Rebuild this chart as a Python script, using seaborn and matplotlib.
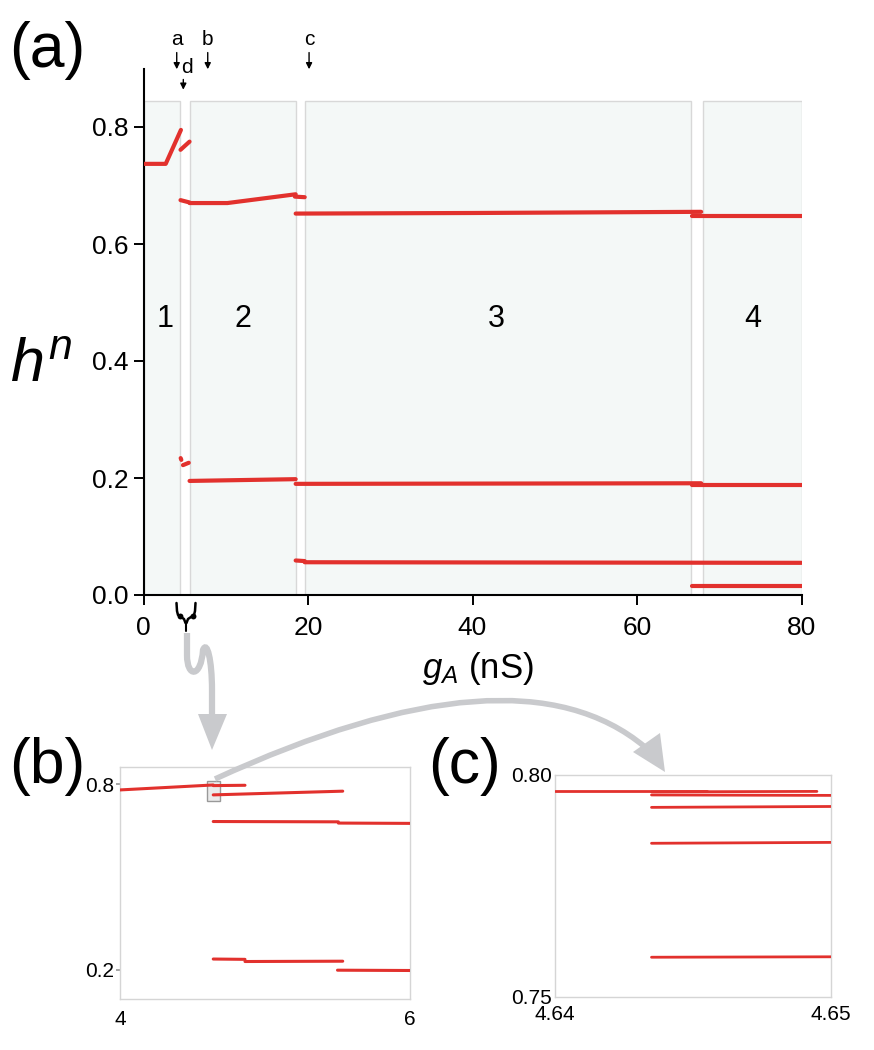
import matplotlib
matplotlib.use("Agg")
import matplotlib.pyplot as plt
from matplotlib.path import Path
from matplotlib.patches import PathPatch, Polygon, Rectangle
import pandas as pd
import seaborn as sns

RED = "#e2312d"
SHADE = "#f4f8f7"
EDGE = "#d8d8d8"
ARROW_GRAY = "#c9cacd"

# panel (a): h^n vs g_A, one list per branch piece
a_seg_x = [
    [0, 2.7, 4.55], [4.5, 5.6], [4.52, 4.6], [4.8, 5.5],
    [4.5, 5.6], [5.6, 10.2, 18.5], [18.4, 19.6],
    [18.5, 40, 67.8], [66.7, 80],
    [5.6, 18.5], [18.5, 67.8], [66.7, 80],
    [18.5, 19.6], [19.6, 80], [66.7, 80],
]
a_seg_y = [
    [0.737, 0.737, 0.795], [0.761, 0.775], [0.234, 0.231], [0.222, 0.226],
    [0.675, 0.671], [0.670, 0.670, 0.685], [0.681, 0.680],
    [0.652, 0.653, 0.655], [0.648, 0.648],
    [0.195, 0.198], [0.190, 0.191], [0.188, 0.188],
    [0.059, 0.058], [0.056, 0.055], [0.016, 0.016],
]
regions = [(0, 4.45), (5.66, 18.5), (19.6, 66.6), (68.0, 80)]
region_names = ["1", "2", "3", "4"]
region_name_x = [2.6, 12.1, 42.9, 74.1]
marker_names = ["a", "b", "c", "d"]
marker_x = [4.04, 7.81, 20.13, 4.84]

# panel (b): zoom on g_A in [4, 6]
b_seg_x = [[4.0, 4.643], [4.643, 4.862], [4.643, 5.536], [4.643, 5.506],
           [5.506, 6.0], [4.643, 4.862], [4.862, 5.536], [5.50, 6.0]]
b_seg_y = [[0.781, 0.797], [0.795, 0.796], [0.765, 0.777], [0.679, 0.678],
           [0.674, 0.673], [0.235, 0.234], [0.227, 0.228], [0.199, 0.198]]

# panel (c): zoom on g_A in [4.64, 4.65]
c_seg_x = [[4.64, 4.6455], [4.6435, 4.6495], [4.6435, 4.65], [4.6435, 4.65],
           [4.6435, 4.65], [4.6435, 4.65]]
c_seg_y = [[0.7965, 0.7965], [0.7962, 0.7963], [0.7955, 0.7954], [0.7927, 0.7929],
           [0.7846, 0.7848], [0.7589, 0.7590]]


def to_frame(xs, ys):
    rows = []
    for i, (sx, sy) in enumerate(zip(xs, ys)):
        for x, y in zip(sx, sy):
            rows.append({"seg": i, "x": x, "y": y})
    return pd.DataFrame(rows)


def draw_branches(ax, xs, ys, lw):
    sns.lineplot(data=to_frame(xs, ys), x="x", y="y", units="seg", estimator=None,
                 sort=False, color=RED, linewidth=lw, ax=ax, legend=False, zorder=3)
    ax.set_xlabel("")
    ax.set_ylabel("")


sns.set_theme(style="ticks")
plt.rcParams["font.family"] = ["Liberation Sans", "DejaVu Sans"]
plt.rcParams["mathtext.fontset"] = "custom"
plt.rcParams["mathtext.rm"] = "Liberation Sans"
plt.rcParams["mathtext.it"] = "Liberation Sans:italic"
for key in ["text.color", "xtick.labelcolor", "ytick.labelcolor", "axes.labelcolor"]:
    plt.rcParams[key] = "black"

W, H = 874, 1050
fig = plt.figure(figsize=(W / 100, H / 100), dpi=100)


def box(left, top, right, bottom):
    return [left / W, 1 - bottom / H, (right - left) / W, (bottom - top) / H]


# ---------------- panel (a)
ax = fig.add_axes(box(143.5, 68.5, 801.5, 595))
for (x0, x1) in regions:
    ax.add_patch(Rectangle((x0, 0), x1 - x0, 0.845, facecolor=SHADE,
                           edgecolor=EDGE, lw=1, zorder=1))
draw_branches(ax, a_seg_x, a_seg_y, 3)
ax.set_xlim(0, 80)
ax.set_ylim(0, 0.9)
ax.set_xticks([0, 20, 40, 60, 80])
ax.set_yticks([0, 0.2, 0.4, 0.6, 0.8])
ax.set_yticklabels(["0.0", "0.2", "0.4", "0.6", "0.8"])
ax.tick_params(direction="out", length=7, width=1.4, labelsize=19, color="black",
               labelcolor="black")
ax.tick_params(axis="x", pad=8)
ax.tick_params(axis="y", pad=4)
for s in ["left", "bottom"]:
    ax.spines[s].set_linewidth(1.5)
    ax.spines[s].set_color("black")
sns.despine(ax=ax)
ax.patch.set_alpha(0)

for name, x in zip(region_names, region_name_x):
    ax.text(x, 0.472, name, ha="center", va="center", fontsize=22, zorder=4)

for name, x in zip(marker_names, marker_x):
    if name == "d":
        tail, tip, ty, tx = 0.886, 0.859, 0.901, x + 0.5
    else:
        tail, tip, ty, tx = 0.932, 0.894, 0.949, x
    ax.annotate("", xy=(x, tip), xytext=(x, tail),
                arrowprops=dict(arrowstyle="-|>", color="black", lw=1, mutation_scale=9),
                annotation_clip=False)
    ax.text(tx, ty, name, ha="center", va="center", fontsize=15, clip_on=False)

# ---------------- panel (b)
axb = fig.add_axes(box(120, 766.7, 410, 999.3))
axb.add_patch(Rectangle((4.602, 0.745), 0.088, 0.066, facecolor="#ebebeb",
                        edgecolor="#999999", lw=1, zorder=2))
draw_branches(axb, b_seg_x, b_seg_y, 2.2)
axb.set_xlim(4, 6)
axb.set_ylim(0.105, 0.856)
axb.set_xticks([4, 6])
axb.set_xticklabels(["4", "6"])
axb.set_yticks([0.2, 0.8])
axb.set_yticklabels(["0.2", "0.8"])
axb.tick_params(axis="x", length=0, pad=8, labelsize=15, labelcolor="black")
axb.tick_params(axis="y", length=3, pad=1, labelsize=15, color="#999999",
                labelcolor="black")

# ---------------- panel (c)
axc = fig.add_axes(box(555, 775, 830.7, 996.7))
draw_branches(axc, c_seg_x, c_seg_y, 2)
axc.set_xlim(4.64, 4.65)
axc.set_ylim(0.75, 0.80)
axc.set_xticks([4.64, 4.65])
axc.set_xticklabels(["4.64", "4.65"])
axc.set_yticks([0.75, 0.80])
axc.set_yticklabels(["0.75", "0.80"])
axc.tick_params(axis="x", length=0, pad=6, labelsize=15, labelcolor="black")
axc.tick_params(axis="y", length=0, pad=2, labelsize=15, labelcolor="black")

for a in (axb, axc):
    for s in a.spines.values():
        s.set_color("#d5d5d5")
        s.set_linewidth(1)

# ---------------- overlay in pixel coordinates for labels and arrows
ov = fig.add_axes([0, 0, 1, 1], zorder=10)
ov.set_xlim(0, W)
ov.set_ylim(H, 0)
ov.axis("off")
ov.patch.set_alpha(0)

for label, (x, y) in {"(a)": (47, 50), "(b)": (47, 766), "(c)": (465, 766)}.items():
    ov.text(x, y, label, ha="center", va="center", fontsize=45)

ov.text(41, 366, "$h^n$", ha="center", va="center", fontsize=44)
ov.text(478, 678, "$g_A$ (nS)", ha="center", va="baseline", fontsize=25)

# broken-axis squiggle under the x axis
ov.plot([176.5, 177, 178, 181, 184, 185.5], [603, 611, 615, 617, 619, 623],
        color="black", lw=1.8, solid_capstyle="round")
ov.plot([195.5, 195, 194, 191, 188, 186.5], [603, 611, 615, 617, 619, 623],
        color="black", lw=1.8, solid_capstyle="round")
ov.scatter([179.5, 192.5], [615.5, 615.5], s=18, color="black", lw=0)
ov.plot([186, 186], [622, 631], color="black", lw=1.5)

# gray arrow from the squiggle down to panel (b)
p1 = Path([(187, 633), (187, 655), (187, 678), (201, 678), (203, 650),
           (207, 640), (212, 660), (212, 690), (212, 718)],
          [Path.MOVETO, Path.LINETO, Path.CURVE4, Path.CURVE4, Path.CURVE4,
           Path.CURVE4, Path.CURVE4, Path.CURVE4, Path.LINETO])
ov.add_patch(PathPatch(p1, facecolor="none", edgecolor=ARROW_GRAY, lw=4.5, capstyle="butt"))
ov.add_patch(Polygon([(198, 714), (227, 714), (212, 750)], closed=True,
                     facecolor=ARROW_GRAY, edgecolor="none"))

# gray arrow from the small box in (b) to panel (c)
p2 = Path([(215, 779), (517, 640), (645, 747)],
          [Path.MOVETO, Path.CURVE3, Path.CURVE3])
ov.add_patch(PathPatch(p2, facecolor="none", edgecolor=ARROW_GRAY, lw=4, capstyle="butt"))
ov.add_patch(Polygon([(633, 752), (660, 733), (665, 772)], closed=True,
                     facecolor=ARROW_GRAY, edgecolor="none"))

fig.savefig("out.png", dpi=100)
